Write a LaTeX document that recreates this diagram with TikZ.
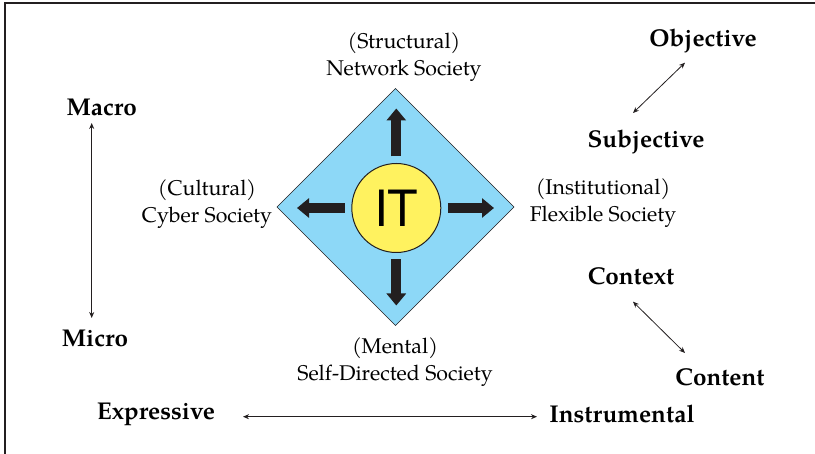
\documentclass[tikz,border=0pt]{standalone}
\usepackage{fontspec}
\setmainfont{TeX Gyre Pagella}
\newfontfamily\itfont{TeX Gyre Heros}
\usetikzlibrary{arrows.meta,shapes.geometric}
\definecolor{diamondblue}{HTML}{8DD8F7}
\definecolor{coreyellow}{HTML}{FFF25F}
\definecolor{ink}{HTML}{231F20}
\begin{document}
\begin{tikzpicture}[x=1pt,y=-1pt,
  society/.style={align=center,font=\fontsize{21.3}{27}\selectfont,inner sep=0pt},
  pole/.style={font=\fontsize{24.3}{28}\selectfont\bfseries,inner sep=0pt},
  axis/.style={draw=ink,line width=0.8pt,{Stealth[length=6pt,width=5pt]}-{Stealth[length=6pt,width=5pt]}},
  push/.style={draw=ink,line width=10pt,-{Triangle[length=12pt,width=19pt]},shorten <=6.5pt,shorten >=20pt}]
\useasboundingbox (0,0) rectangle (815,454);
% open frame: top rule and left rule
\draw[ink,line width=1.4pt] (815,3) -- (5,3) -- (5,454);

% diamond with the IT core
\node[diamond,aspect=1,minimum width=237pt,minimum height=237pt,inner sep=0pt,outer sep=0pt,
      fill=diamondblue,draw=ink,line width=0.5pt] (dia) at (395.5,207) {};
\node[circle,minimum size=89pt,inner sep=0pt,fill=coreyellow,draw=ink,line width=1pt] (it) at (396.3,208)
  {\itfont\fontsize{50}{50}\selectfont IT};

\draw[push] (it.north) -- (it.north |- dia.north);
\draw[push] (it.south) -- (it.south |- dia.south);
\draw[push] (it.west) -- (it.west -| dia.west);
\draw[push] (it.east) -- (it.east -| dia.east);

% society labels
\node[society] (net) at (404,57.5) {(Structural)\\Network Society};
\node[society] (cyb) at (207,204) {(Cultural)\\Cyber Society};
\node[society] (flex) at (603,203.5) {(Institutional)\\Flexible Society};
\node[society] (self) at (395,362) {(Mental)\\Self-Directed Society};

% poles of the dimensions
\node[pole] (macro) at (101.7,107) {Macro};
\node[pole] (micro) at (95,338) {Micro};
\node[pole] (obj) at (703,41) {Objective};
\node[pole] (subj) at (646,142) {Subjective};
\node[pole] (ctx) at (631,276) {Context};
\node[pole] (cnt) at (720,377) {Content};
\node[pole] (expr) at (156,414) {Expressive};
\node[pole] (instr) at (622,414) {Instrumental};

% arrow ends
\coordinate (macroEnd) at (91.7,123);
\coordinate (microEnd) at (91.7,318);
\coordinate (objEnd) at (685,62.7);
\coordinate (subjEnd) at (633,113);
\coordinate (ctxEnd) at (633,301.7);
\coordinate (cntEnd) at (685,353);
\coordinate (exprEnd) at (243,416.7);
\coordinate (instrEnd) at (537,416.7);

\draw[axis] (macroEnd) -- (microEnd);
\draw[axis] (objEnd) -- (subjEnd);
\draw[axis] (ctxEnd) -- (cntEnd);
\draw[axis] (exprEnd) -- (instrEnd);
\end{tikzpicture}
\end{document}
